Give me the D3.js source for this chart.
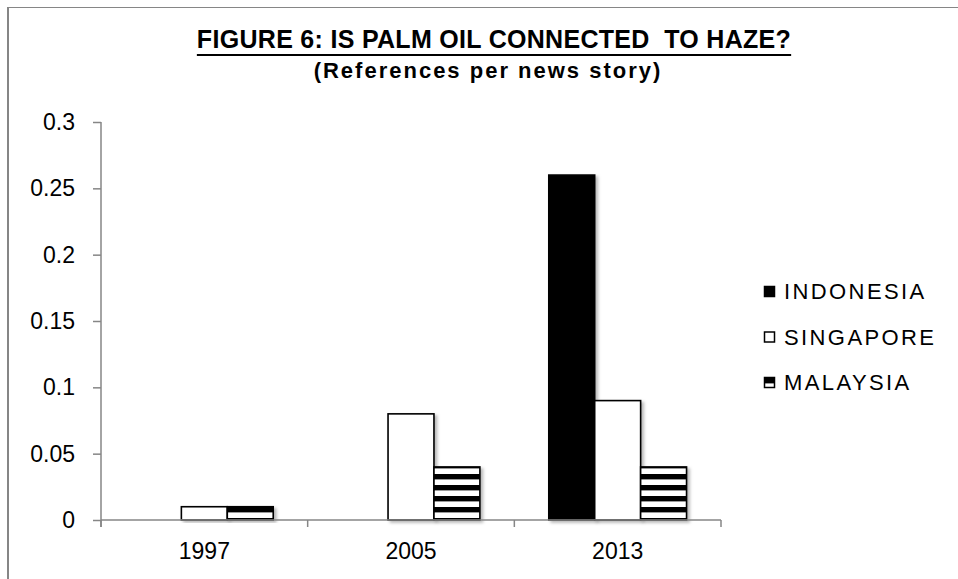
<!DOCTYPE html>
<html>
<head>
<meta charset="utf-8">
<script src="https://cdn.jsdelivr.net/npm/d3@7"></script>
<style>
  html, body { margin: 0; padding: 0; background: #fff; }
  svg { display: block; font-family: Arial, "Liberation Sans", sans-serif; }
</style>
</head>
<body>
<svg id="chart" width="958" height="579"></svg>
<script>
const years = ["1997", "2005", "2013"];
const seriesNames = ["INDONESIA", "SINGAPORE", "MALAYSIA"];
const indonesia = [0, 0, 0.26];
const singapore = [0.01, 0.08, 0.09];
const malaysia = [0.01, 0.04, 0.04];
const yTicks = [0, 0.05, 0.1, 0.15, 0.2, 0.25, 0.3];
const yTickLabels = ["0", "0.05", "0.1", "0.15", "0.2", "0.25", "0.3"];
const titleText = "FIGURE 6: IS PALM OIL CONNECTED  TO HAZE?";
const subtitleText = "(References per news story)";

const seriesValues = [indonesia, singapore, malaysia];
const rows = [];
years.forEach((yr, i) => seriesNames.forEach((s, j) => rows.push({year: yr, series: s, value: seriesValues[j][i]})));

const svg = d3.select("#chart");
const axisColor = "#868686";

// frame
svg.append("line").attr("x1", 8).attr("x2", 8).attr("y1", 7).attr("y2", 579)
  .attr("stroke", axisColor).attr("stroke-width", 2);
svg.append("line").attr("x1", 7).attr("x2", 958).attr("y1", 7.5).attr("y2", 7.5)
  .attr("stroke", axisColor).attr("stroke-width", 1);

const defs = svg.append("defs");
const sh = defs.append("filter").attr("id", "shadow").attr("x", "-20%").attr("y", "-20%").attr("width", "160%").attr("height", "140%");
sh.append("feDropShadow").attr("dx", 2.5).attr("dy", 2).attr("stdDeviation", 1.8)
  .attr("flood-color", "#000").attr("flood-opacity", 0.28);

function stripes(id, y0) {
  const p = defs.append("pattern").attr("id", id).attr("patternUnits", "userSpaceOnUse")
    .attr("x", 0).attr("y", y0).attr("width", 10).attr("height", 11);
  p.append("rect").attr("width", 10).attr("height", 11).attr("fill", "#fff");
  p.append("rect").attr("width", 10).attr("height", 5.4).attr("fill", "#000");
}
stripes("hstripe", 507);
stripes("hstripeLegend", 378);

const x0 = d3.scaleBand().domain(years).range([101, 721]).paddingInner(0).paddingOuter(0);
const x1 = d3.scaleBand().domain(seriesNames).range([0, x0.bandwidth()]).paddingInner(0).paddingOuter(0.75);
const y = d3.scaleLinear().domain([0, 0.3]).range([520, 122]);

const fills = {"INDONESIA": "#000", "SINGAPORE": "#fff", "MALAYSIA": "url(#hstripe)"};
const legendFills = {"INDONESIA": "#000", "SINGAPORE": "#fff", "MALAYSIA": "url(#hstripeLegend)"};

// bars
svg.append("g").selectAll("rect").data(rows.filter(d => d.value > 0)).join("rect")
  .attr("x", d => x0(d.year) + x1(d.series))
  .attr("y", d => y(d.value))
  .attr("width", x1.bandwidth())
  .attr("height", d => y(0) - y(d.value))
  .attr("fill", d => fills[d.series])
  .attr("stroke", "#000").attr("stroke-width", 1.6)
  .attr("filter", "url(#shadow)");

// y axis
const yAxis = d3.axisLeft(y).tickValues(yTicks).tickFormat((d, i) => yTickLabels[i]).tickSize(8).tickPadding(18);
const gy = svg.append("g").attr("transform", "translate(101,0)").call(yAxis);
gy.select(".domain").attr("d", "M0,122V527").attr("stroke", axisColor).attr("stroke-width", 1.5);
gy.selectAll(".tick line").attr("stroke", axisColor).attr("stroke-width", 1.5);
gy.selectAll(".tick text").attr("font-size", 23).attr("fill", "#000")
  .attr("font-family", "Arial, 'Liberation Sans', sans-serif");

// x axis
const xAxis = d3.axisBottom(x0).tickSize(0).tickPadding(23);
const gx = svg.append("g").attr("transform", "translate(0,520)").call(xAxis);
gx.select(".domain").attr("d", "M101,0H721").attr("stroke", axisColor).attr("stroke-width", 1.5);
gx.selectAll(".tick text").attr("font-size", 23).attr("fill", "#000")
  .attr("font-family", "Arial, 'Liberation Sans', sans-serif");
// category separator ticks
const bounds = years.map(yr => x0(yr) + x0.bandwidth()).concat([x0(years[0])]);
gx.append("g").selectAll("line").data(bounds).join("line")
  .attr("x1", d => d).attr("x2", d => d).attr("y1", 0).attr("y2", 7)
  .attr("stroke", axisColor).attr("stroke-width", 1.5);

// title
const title = svg.append("text").attr("x", 494).attr("y", 48).attr("text-anchor", "middle")
  .attr("font-size", 25).attr("font-weight", "bold").attr("fill", "#000")
  .attr("letter-spacing", 0.3)
  .style("white-space", "pre").text(titleText);
const tb = title.node().getBBox();
svg.append("line").attr("x1", tb.x).attr("x2", tb.x + tb.width).attr("y1", 55).attr("y2", 55)
  .attr("stroke", "#000").attr("stroke-width", 1.8);
svg.append("text").attr("x", 488).attr("y", 78).attr("text-anchor", "middle")
  .attr("font-size", 22).attr("font-weight", "bold").attr("fill", "#000")
  .attr("letter-spacing", 2).text(subtitleText);

// legend
const legendY = d3.scalePoint().domain(seriesNames).range([299, 390]);
const lg = svg.append("g");
seriesNames.forEach(s => {
  const by = legendY(s);
  lg.append("rect").attr("x", 764.5).attr("y", by - 12.5).attr("width", 10).attr("height", 10)
    .attr("fill", legendFills[s]).attr("stroke", "#000").attr("stroke-width", 1.5);
  lg.append("text").attr("x", 784).attr("y", by).attr("font-size", 22).attr("fill", "#000")
    .attr("letter-spacing", 2.4).text(s);
});
</script>
</body>
</html>
